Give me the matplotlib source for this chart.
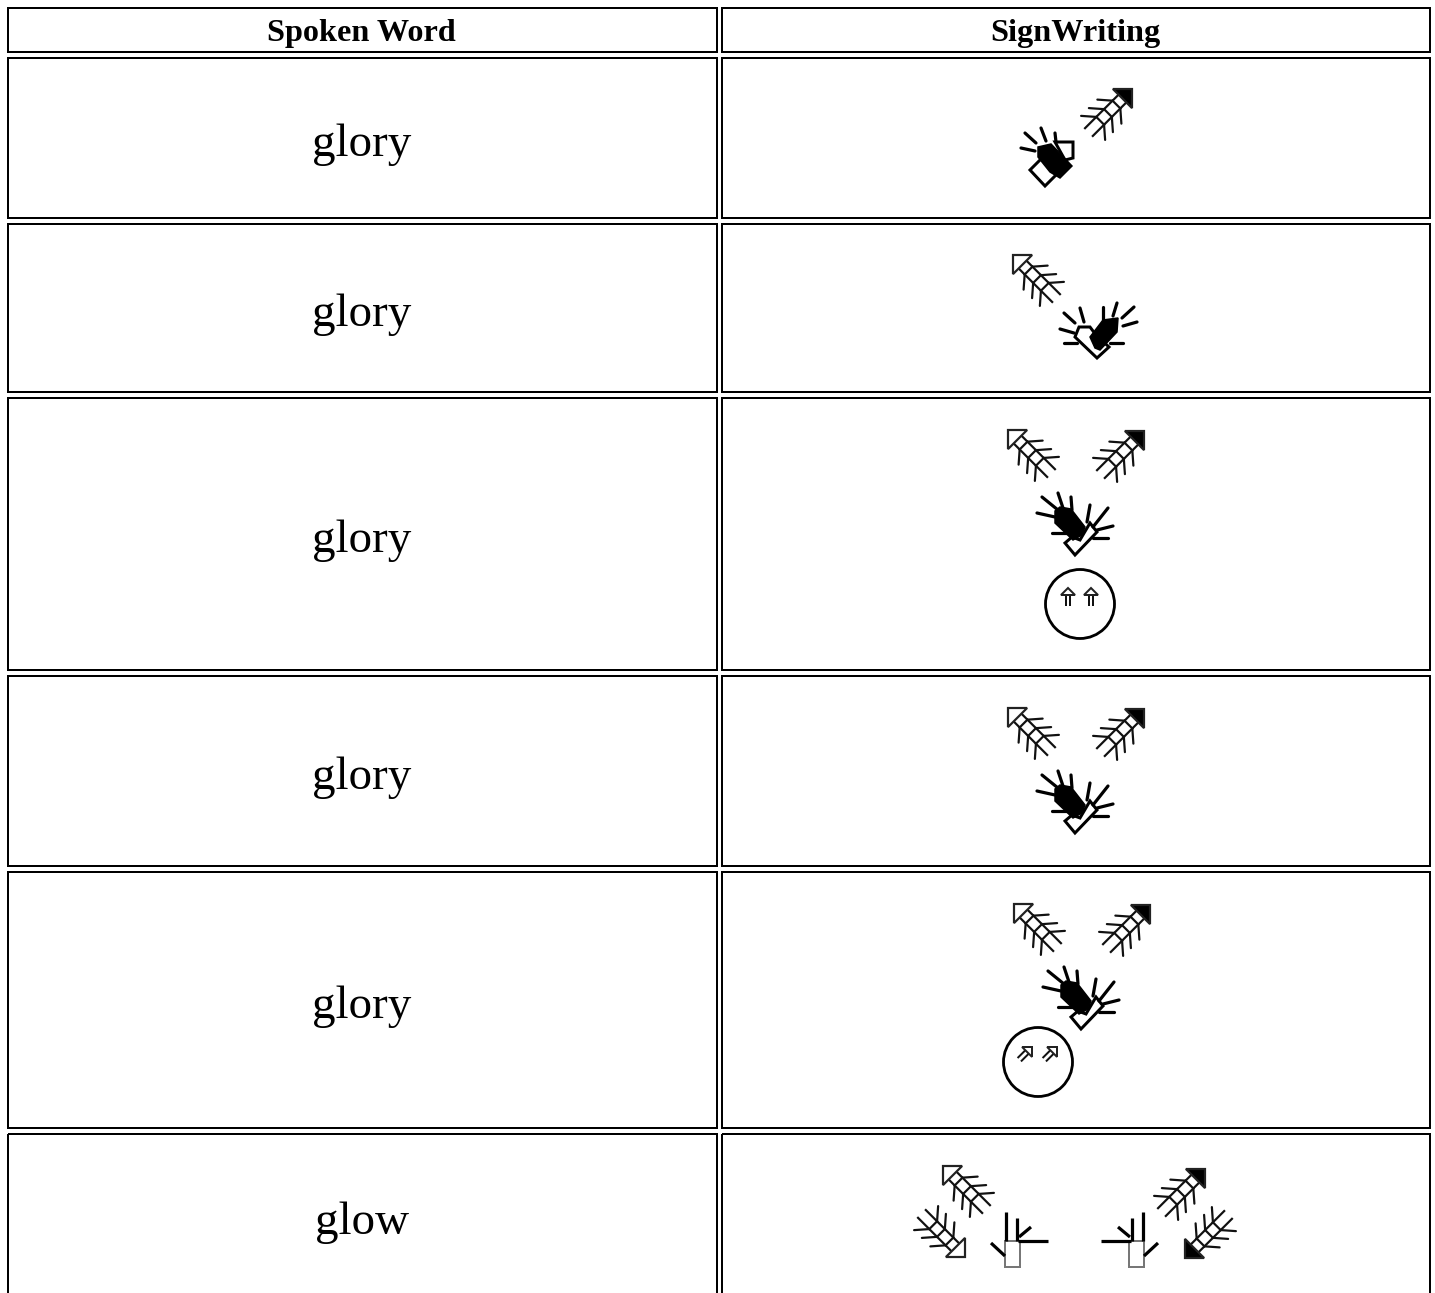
import numpy as np
import matplotlib
matplotlib.use('Agg')
import matplotlib.pyplot as plt
from matplotlib.patches import Polygon, Rectangle, Circle

# table content
headers = ['Spoken Word', 'SignWriting']
words = ['glory', 'glory', 'glory', 'glory', 'glory', 'glow']
row_tops = [8, 58, 224, 398, 676, 872, 1134]
row_bottoms = [52, 218, 392, 670, 866, 1128, 1298]
col_lefts = [8, 722]
col_rights = [717, 1430]

# movement arrows per row: (row, tip x, tip y, direction, filled)
arrows = [
    (1, 1132, 89, 'NE', True),
    (2, 1013, 255, 'NW', False),
    (3, 1008, 430, 'NW', False), (3, 1144, 431, 'NE', True),
    (4, 1008, 708, 'NW', False), (4, 1144, 709, 'NE', True),
    (5, 1014, 904, 'NW', False), (5, 1150, 905, 'NE', True),
    (6, 943, 1166, 'NW', False), (6, 1205, 1169, 'NE', True),
    (6, 965, 1257, 'SE', False), (6, 1185, 1258, 'SW', True),
]

# faces: centre x, centre y, small arrow direction, small arrow tips
faces = [
    (1080, 604, 'N', [(1068, 588), (1091, 588)]),
    (1038, 1062, 'NE', [(1032, 1047), (1057, 1047)]),
]

# hand shapes (x, y in px relative to an origin)
hand1_black = [(1038, 147), (1051, 144), (1072, 166), (1060, 178), (1050, 172), (1038, 157)]
hand1_white = [[(1055, 142), (1073, 142), (1073, 158), (1065, 160)],
               [(1030, 170), (1042, 158), (1058, 173), (1045, 186)]]
hand1_rays = [((1025, 133), (1036, 143)), ((1041, 128), (1046, 141)),
              ((1055, 133), (1056, 142)), ((1021, 148), (1035, 151))]

hand2_black = [(1090, 337), (1103, 320), (1118, 318), (1117, 332), (1100, 350), (1095, 348)]
hand2_white = [[(1075, 337), (1079, 327), (1090, 327), (1096, 335), (1109, 347), (1097, 358)]]
hand2_rays = [((1064, 313), (1075, 323)), ((1080, 308), (1084, 322)),
              ((1103, 307), (1103, 320)), ((1117, 303), (1113, 316)),
              ((1134, 307), (1122, 318)), ((1137, 322), (1123, 326)),
              ((1123, 343), (1110, 343)), ((1060, 329), (1074, 333)),
              ((1064, 343), (1077, 343))]

hand3_black = [(1055, 511), (1060, 507), (1071, 509), (1085, 527), (1082, 535), (1073, 540), (1055, 523)]
hand3_white = [[(1065, 543), (1075, 555), (1097, 532), (1090, 523), (1080, 540), (1072, 537)]]
hand3_rays = [((1042, 497), (1058, 510)), ((1058, 493), (1063, 508)),
              ((1071, 497), (1072, 510)), ((1037, 513), (1055, 517)),
              ((1052, 533), (1070, 533)), ((1090, 505), (1087, 522)),
              ((1108, 508), (1093, 527)), ((1113, 526), (1097, 530)),
              ((1108, 538), (1093, 538))]
hand3_offsets = [(0, 0), (0, 278), (6, 474)]

# bent hand pair on the last row, mirrored about x_mirror
hand6_palm = [(1005, 1241), (1020, 1241), (1020, 1267), (1005, 1267)]
hand6_fingers = [((1006, 1212), (1006, 1241)), ((1017, 1218), (1017, 1241)),
                 ((1019, 1237), (1031, 1227)), ((1018, 1241), (1048, 1241)),
                 ((991, 1243), (1005, 1256))]
hand6_mirror = 2 * 1074.5

PX = 72 / 100  # points per pixel at dpi 100
FONT = 'Liberation Serif'

UNIT = {
    'N': (0, -1),
    'NE': (2**-0.5, -2**-0.5),
    'NW': (-2**-0.5, -2**-0.5),
    'SE': (2**-0.5, 2**-0.5),
    'SW': (-2**-0.5, 2**-0.5),
}


def draw_arrow(ax, x, y, direction, filled, head=13.5, half=13.5, shaft=5.5,
               length=62, ribs=(-22, -34, -45), lw=2.2):
    u = np.array(UNIT[direction])
    v = np.array((-u[1], u[0]))
    tip = np.array((x, y), dtype=float)

    def pt(a, b):
        return tip + a * u + b * v

    ax.add_patch(Polygon([pt(0, 0), pt(-head, half), pt(-head, -half)], closed=True,
                         facecolor='black' if filled else 'white',
                         edgecolor='#222222', linewidth=lw * PX, joinstyle='miter', zorder=3))
    for side in (-1, 1):
        a, b = zip(pt(-head, side * shaft), pt(-length, side * shaft))
        ax.plot(a, b, color='#111111', lw=lw * PX, zorder=2, solid_capstyle='butt')
    for r in ribs:
        a, b = zip(pt(r, -shaft), pt(r, shaft))
        ax.plot(a, b, color='#111111', lw=lw * PX, zorder=2)
        for side in (-1, 1):
            a, b = zip(pt(r, side * shaft), pt(r - 10, side * 17))
            ax.plot(a, b, color='#111111', lw=lw * PX, zorder=2, solid_capstyle='round')


def draw_hand(ax, black, whites, rays, dx=0, dy=0):
    for poly in whites:
        ax.add_patch(Polygon([(p[0] + dx, p[1] + dy) for p in poly], closed=True,
                             facecolor='white', edgecolor='black', linewidth=3 * PX, zorder=3))
    ax.add_patch(Polygon([(p[0] + dx, p[1] + dy) for p in black], closed=True,
                         facecolor='black', edgecolor='black', linewidth=1.5 * PX, zorder=4))
    for a, b in rays:
        ax.plot([a[0] + dx, b[0] + dx], [a[1] + dy, b[1] + dy], color='black',
                lw=3.2 * PX, zorder=4, solid_capstyle='round')


fig = plt.figure(figsize=(14.35, 12.93), dpi=100)
ax = fig.add_axes([0, 0, 1, 1])
ax.set_xlim(0, 1435)
ax.set_ylim(1293, 0)
ax.axis('off')

# cell borders
for top, bottom in zip(row_tops, row_bottoms):
    for left, right in zip(col_lefts, col_rights):
        ax.add_patch(Rectangle((left, top), right - left, bottom - top, fill=False,
                               edgecolor='black', linewidth=2 * PX))

# text
for left, right, label in zip(col_lefts, col_rights, headers):
    ax.text((left + right) / 2 - 1, (row_tops[0] + row_bottoms[0]) / 2 + 11, label, ha='center',
            va='baseline', fontsize=32.3 * PX, fontweight='bold', family=FONT)
for i, word in enumerate(words):
    mid = (row_tops[i + 1] + row_bottoms[i + 1]) / 2
    ax.text((col_lefts[0] + col_rights[0]) / 2 - 0.5, mid + 18, word, ha='center', va='baseline',
            fontsize=47 * PX, family=FONT)

# SignWriting symbols
for row, x, y, direction, filled in arrows:
    draw_arrow(ax, x, y, direction, filled)

draw_hand(ax, hand1_black, hand1_white, hand1_rays)
draw_hand(ax, hand2_black, hand2_white, hand2_rays)
for dx, dy in hand3_offsets:
    draw_hand(ax, hand3_black, hand3_white, hand3_rays, dx, dy)

for cx, cy, direction, tips in faces:
    ax.add_patch(Circle((cx, cy), 34.5, fill=False, edgecolor='black', linewidth=2.8 * PX))
    for tx, ty in tips:
        draw_arrow(ax, tx, ty, direction, False, head=7, half=7, shaft=2.4, length=18,
                   ribs=(), lw=2)

for flip in (False, True):
    mx = (lambda p: hand6_mirror - p) if flip else (lambda p: p)
    ax.add_patch(Polygon([(mx(p[0]), p[1]) for p in hand6_palm], closed=True, fill=False,
                         edgecolor='#777777', linewidth=2 * PX))
    for a, b in hand6_fingers:
        ax.plot([mx(a[0]), mx(b[0])], [a[1], b[1]], color='black', lw=3.2 * PX,
                solid_capstyle='butt')

fig.savefig('out.png', dpi=100)
